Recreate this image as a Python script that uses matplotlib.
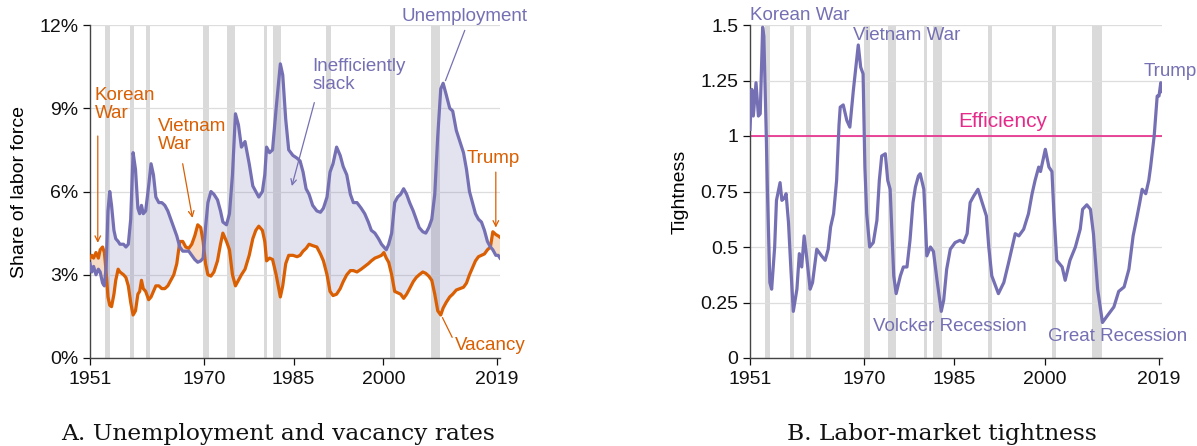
import numpy as np
import matplotlib.pyplot as plt

plt.rcParams['font.family'] = ['Liberation Sans', 'DejaVu Sans']

purple = '#7570b3'
orange = '#d95f02'
pink = '#e7298a'

# unemployment and vacancy rates (% of labor force)
years = [1951.0, 1951.3, 1951.6, 1952.0, 1952.4, 1952.7, 1953.1, 1953.4, 1953.7, 1954.0,
         1954.3, 1954.6, 1955.0, 1955.3, 1955.7, 1956.0, 1956.6, 1957.0, 1957.4, 1957.8,
         1958.2, 1958.6, 1959.0, 1959.3, 1959.6, 1959.9, 1960.3, 1960.8, 1961.2, 1961.6,
         1962.0, 1962.5, 1963.0, 1963.5, 1964.0, 1964.5, 1965.0, 1965.5, 1966.0, 1966.5,
         1967.0, 1967.5, 1968.0, 1968.5, 1969.0, 1969.5, 1969.9, 1970.3, 1970.7, 1971.2,
         1971.7, 1972.3, 1972.8, 1973.2, 1973.8, 1974.3, 1974.8, 1975.3, 1975.8, 1976.3,
         1976.9, 1977.6, 1978.2, 1978.7, 1979.2, 1979.8, 1980.2, 1980.5, 1981.0, 1981.5,
         1982.1, 1982.8, 1983.2, 1983.7, 1984.2, 1984.9, 1985.6, 1986.1, 1986.6, 1987.1,
         1987.6, 1988.2, 1988.9, 1989.5, 1990.0, 1990.6, 1991.1, 1991.6, 1992.2, 1992.8,
         1993.3, 1993.9, 1994.5, 1995.0, 1995.6, 1996.3, 1996.9, 1997.5, 1998.0, 1998.6,
         1999.2, 1999.7, 2000.1, 2000.5, 2000.9, 2001.4, 2001.9, 2002.4, 2002.9, 2003.4,
         2003.9, 2004.4, 2005.0, 2005.5, 2006.0, 2006.6, 2007.1, 2007.6, 2008.1, 2008.6,
         2009.1, 2009.6, 2010.0, 2010.5, 2011.1, 2011.6, 2012.2, 2012.8, 2013.4, 2013.9,
         2014.4, 2014.9, 2015.4, 2015.9, 2016.4, 2016.9, 2017.4, 2017.9, 2018.3, 2018.8,
         2019.2, 2019.5]
unemployment = [3.4, 3.1, 3.3, 3.0, 3.2, 3.1, 2.7, 2.6, 3.3, 5.3,
                6.0, 5.5, 4.6, 4.3, 4.2, 4.1, 4.1, 4.0, 4.1, 5.0,
                7.4, 6.8, 5.4, 5.2, 5.5, 5.2, 5.3, 6.2, 7.0, 6.6,
                5.8, 5.6, 5.6, 5.5, 5.3, 5.0, 4.7, 4.4, 4.0, 3.85,
                3.85, 3.85, 3.7, 3.55, 3.45, 3.5, 3.6, 4.7, 5.6, 6.0,
                5.9, 5.7, 5.3, 4.9, 4.8, 5.2, 6.6, 8.8, 8.4, 7.6,
                7.8, 7.0, 6.2, 6.0, 5.8, 6.0, 6.6, 7.6, 7.4, 7.5,
                9.0, 10.6, 10.2, 8.6, 7.5, 7.3, 7.2, 7.1, 6.7, 6.1,
                5.9, 5.5, 5.3, 5.25, 5.4, 5.8, 6.7, 7.0, 7.6, 7.3,
                6.9, 6.6, 5.9, 5.6, 5.6, 5.4, 5.2, 4.9, 4.6, 4.5,
                4.3, 4.1, 4.0, 3.9, 4.1, 4.5, 5.6, 5.8, 5.9, 6.1,
                5.9, 5.6, 5.3, 5.0, 4.7, 4.55, 4.5, 4.7, 5.0, 5.9,
                8.0, 9.7, 9.9, 9.5, 9.0, 8.9, 8.2, 7.8, 7.4, 6.8,
                6.0, 5.6, 5.2, 5.0, 4.9, 4.6, 4.2, 4.0, 3.9, 3.7,
                3.7, 3.6]
vacancy = [3.6, 3.7, 3.6, 3.8, 3.6, 3.9, 4.0, 3.8, 3.1, 2.2,
           1.9, 1.85, 2.3, 2.8, 3.2, 3.1, 3.0, 2.9, 2.6, 2.0,
           1.55, 1.7, 2.3, 2.4, 2.8, 2.5, 2.4, 2.1, 2.2, 2.4,
           2.6, 2.6, 2.5, 2.5, 2.6, 2.8, 3.0, 3.4, 4.2, 4.2,
           4.0, 3.95, 4.1, 4.4, 4.8, 4.7, 4.2, 3.4, 3.0, 2.95,
           3.1, 3.5, 4.1, 4.5, 4.2, 3.9, 3.0, 2.6, 2.8, 3.0,
           3.2, 3.7, 4.3, 4.6, 4.75, 4.6, 4.2, 3.5, 3.6, 3.55,
           3.0, 2.2, 2.6, 3.4, 3.7, 3.7, 3.65, 3.7, 3.85, 3.95,
           4.1, 4.05, 4.0, 3.75, 3.5, 3.0, 2.4, 2.25, 2.3, 2.5,
           2.75, 3.0, 3.15, 3.15, 3.1, 3.2, 3.3, 3.4, 3.5, 3.6,
           3.65, 3.7, 3.8, 3.6, 3.45, 3.0, 2.4, 2.35, 2.3, 2.15,
           2.3, 2.5, 2.75, 2.9, 3.0, 3.1, 3.05, 2.95, 2.8, 2.3,
           1.7, 1.55, 1.8, 2.0, 2.2, 2.3, 2.45, 2.5, 2.55, 2.7,
           3.0, 3.25, 3.5, 3.65, 3.7, 3.75, 3.9, 4.0, 4.55, 4.45,
           4.4, 4.35]

# labor-market tightness (vacancy / unemployment)
tight_years = [1951.0, 1951.3, 1951.55, 1952.0, 1952.4, 1952.7, 1953.1, 1953.3, 1953.7, 1953.9,
               1954.3, 1954.6, 1955.1, 1955.4, 1956.0, 1956.3, 1956.7, 1957.0, 1957.4, 1957.8,
               1958.2, 1958.8, 1959.2, 1959.6, 1960.0, 1960.4, 1961.0, 1961.4, 1962.1, 1962.9,
               1963.5, 1964.0, 1964.4, 1964.9, 1965.4, 1965.8, 1966.0, 1966.5, 1967.1, 1967.6,
               1968.2, 1969.0, 1969.4, 1969.8, 1970.1, 1970.4, 1970.9, 1971.5, 1972.1, 1972.5,
               1972.9, 1973.5, 1973.9, 1974.3, 1974.9, 1975.3, 1976.0, 1976.5, 1977.1, 1977.6,
               1978.1, 1978.5, 1979.0, 1979.3, 1979.9, 1980.1, 1980.4, 1981.0, 1981.5, 1982.1,
               1982.8, 1983.2, 1983.7, 1984.3, 1985.1, 1985.9, 1986.5, 1987.1, 1987.6, 1988.2,
               1988.9, 1989.6, 1990.3, 1990.7, 1991.2, 1992.3, 1993.2, 1994.0, 1994.6, 1995.1,
               1995.7, 1996.5, 1997.3, 1997.9, 1998.4, 1999.0, 1999.3, 2000.1, 2000.7, 2001.2,
               2001.5, 2002.0, 2002.9, 2003.4, 2004.2, 2005.1, 2005.9, 2006.3, 2007.0, 2007.6,
               2008.1, 2008.8, 2009.6, 2010.4, 2011.5, 2012.3, 2013.2, 2014.0, 2014.7, 2015.3,
               2015.8, 2016.2, 2016.8, 2017.3, 2017.6, 2018.2, 2018.7, 2019.0, 2019.3, 2019.5]
tightness = [1.03, 1.21, 1.09, 1.24, 1.09, 1.10, 1.49, 1.45, 1.01, 0.75,
             0.34, 0.31, 0.50, 0.71, 0.79, 0.71, 0.72, 0.74, 0.61, 0.40,
             0.21, 0.31, 0.47, 0.41, 0.55, 0.46, 0.31, 0.34, 0.49, 0.46,
             0.44, 0.49, 0.59, 0.65, 0.80, 1.05, 1.13, 1.14, 1.07, 1.04,
             1.21, 1.41, 1.31, 1.28, 0.86, 0.65, 0.50, 0.52, 0.62, 0.80,
             0.91, 0.92, 0.80, 0.76, 0.37, 0.29, 0.37, 0.41, 0.41, 0.53,
             0.70, 0.77, 0.82, 0.83, 0.76, 0.65, 0.46, 0.50, 0.48, 0.35,
             0.21, 0.26, 0.40, 0.49, 0.52, 0.53, 0.52, 0.56, 0.70, 0.73,
             0.76, 0.70, 0.64, 0.50, 0.37, 0.29, 0.34, 0.43, 0.50, 0.56,
             0.55, 0.58, 0.65, 0.74, 0.80, 0.86, 0.84, 0.94, 0.86, 0.84,
             0.67, 0.44, 0.41, 0.35, 0.44, 0.50, 0.58, 0.67, 0.69, 0.67,
             0.56, 0.31, 0.16, 0.19, 0.23, 0.30, 0.32, 0.40, 0.55, 0.63,
             0.70, 0.76, 0.74, 0.80, 0.86, 1.00, 1.18, 1.18, 1.24, 1.20]

# NBER recessions
rec_start = [1953.5, 1957.6, 1960.3, 1969.9, 1973.9, 1980.0, 1981.5, 1990.5, 2001.2, 2007.9]
rec_end = [1954.4, 1958.3, 1961.1, 1970.9, 1975.2, 1980.5, 1982.9, 1991.2, 2001.9, 2009.5]

year_ticks = [1951, 1970, 1985, 2000, 2019]

fig = plt.figure(figsize=(11.97, 4.46), dpi=100)
ax1 = fig.add_axes([90/1197, 88/446, 410/1197, 333/446])
ax2 = fig.add_axes([750/1197, 88/446, 412/1197, 333/446])


def style(ax):
    for s0, s1 in zip(rec_start, rec_end):
        ax.axvspan(s0, s1, color='#bdbdbd', alpha=0.55, lw=0, zorder=0)
    ax.set_xlim(1951, 2019.5)
    ax.set_xticks(year_ticks)
    ax.spines['top'].set_visible(False)
    ax.spines['right'].set_visible(False)
    for s in ['left', 'bottom']:
        ax.spines[s].set_color('#444444')
        ax.spines[s].set_linewidth(1.0)
    ax.tick_params(labelsize=14, colors='#111111', length=5, width=0.9)
    ax.tick_params(axis='x', pad=4)
    ax.grid(axis='y', color='#dddddd', lw=0.9, zorder=0)
    ax.set_axisbelow(True)


# panel A
style(ax1)
u = np.array(unemployment)
v = np.array(vacancy)
ax1.fill_between(years, u, v, where=u >= v, interpolate=True, color=purple, alpha=0.2, lw=0, zorder=1)
ax1.fill_between(years, u, v, where=u < v, interpolate=True, color=orange, alpha=0.22, lw=0, zorder=1)
ax1.plot(years, vacancy, color=orange, lw=2.3, zorder=3)
ax1.plot(years, unemployment, color=purple, lw=2.3, zorder=3)
ax1.set_ylim(0, 12)
ax1.set_yticks([0, 3, 6, 9, 12])
ax1.set_yticklabels(['0%', '3%', '6%', '9%', '12%'])
ax1.set_ylabel('Share of labor force', fontsize=14, labelpad=8)

ann = dict(fontsize=13.5, va='top', ha='left', linespacing=1.05)
ax1.text(1951.8, 9.75, 'Korean\nWar', color=orange, **ann)
ax1.annotate('', xy=(1952.3, 4.05), xytext=(1952.3, 8.1),
             arrowprops=dict(arrowstyle='->', color=orange, lw=0.9))
ax1.text(1962.4, 8.65, 'Vietnam\nWar', color=orange, **ann)
ax1.annotate('', xy=(1968.2, 4.95), xytext=(1966.4, 7.1),
             arrowprops=dict(arrowstyle='->', color=orange, lw=0.9))
ax1.text(1988.1, 10.8, 'Inefficiently\nslack', color=purple, **ann)
ax1.annotate('', xy=(1984.6, 6.1), xytext=(1988.6, 9.3),
             arrowprops=dict(arrowstyle='->', color=purple, lw=0.9))
ax1.text(2003.1, 12.6, 'Unemployment', color=purple, **ann)
ax1.plot([2013.6, 2010.4], [11.8, 10.0], color=purple, lw=0.9)
ax1.text(2013.9, 7.5, 'Trump', color=orange, **ann)
ax1.annotate('', xy=(2018.8, 4.6), xytext=(2018.8, 6.8),
             arrowprops=dict(arrowstyle='->', color=orange, lw=0.9))
ax1.text(2011.9, 0.75, 'Vacancy', color=orange, **ann)
ax1.plot([2011.5, 2009.9], [0.75, 1.45], color=orange, lw=0.9)

# panel B
style(ax2)
ax2.axhline(1, color=pink, lw=1.2, zorder=2)
ax2.plot(tight_years, tightness, color=purple, lw=2.3, zorder=3)
ax2.set_ylim(0, 1.5)
ax2.set_yticks([0, 0.25, 0.5, 0.75, 1, 1.25, 1.5])
ax2.set_yticklabels(['0', '0.25', '0.5', '0.75', '1', '1.25', '1.5'])
ax2.set_ylabel('Tightness', fontsize=14, labelpad=8)

ax2.text(1951.0, 1.58, 'Korean War', color=purple, **ann)
ax2.text(1968.1, 1.49, 'Vietnam War', color=purple, **ann)
ax2.text(1985.6, 1.11, 'Efficiency', color=pink, fontsize=15, va='top', ha='left')
ax2.text(2016.4, 1.33, 'Trump', color=purple, **ann)
ax2.text(1971.5, 0.18, 'Volcker Recession', color=purple, **ann)
ax2.text(2000.6, 0.135, 'Great Recession', color=purple, **ann)

fig.text(278/1197, 1 - 434/446, 'A. Unemployment and vacancy rates', ha='center', va='center',
         fontsize=16.8, family='DejaVu Serif', color='#111111')
fig.text(942/1197, 1 - 434/446, 'B. Labor-market tightness', ha='center', va='center',
         fontsize=16.8, family='DejaVu Serif', color='#111111')

fig.savefig('out.png', dpi=100)
